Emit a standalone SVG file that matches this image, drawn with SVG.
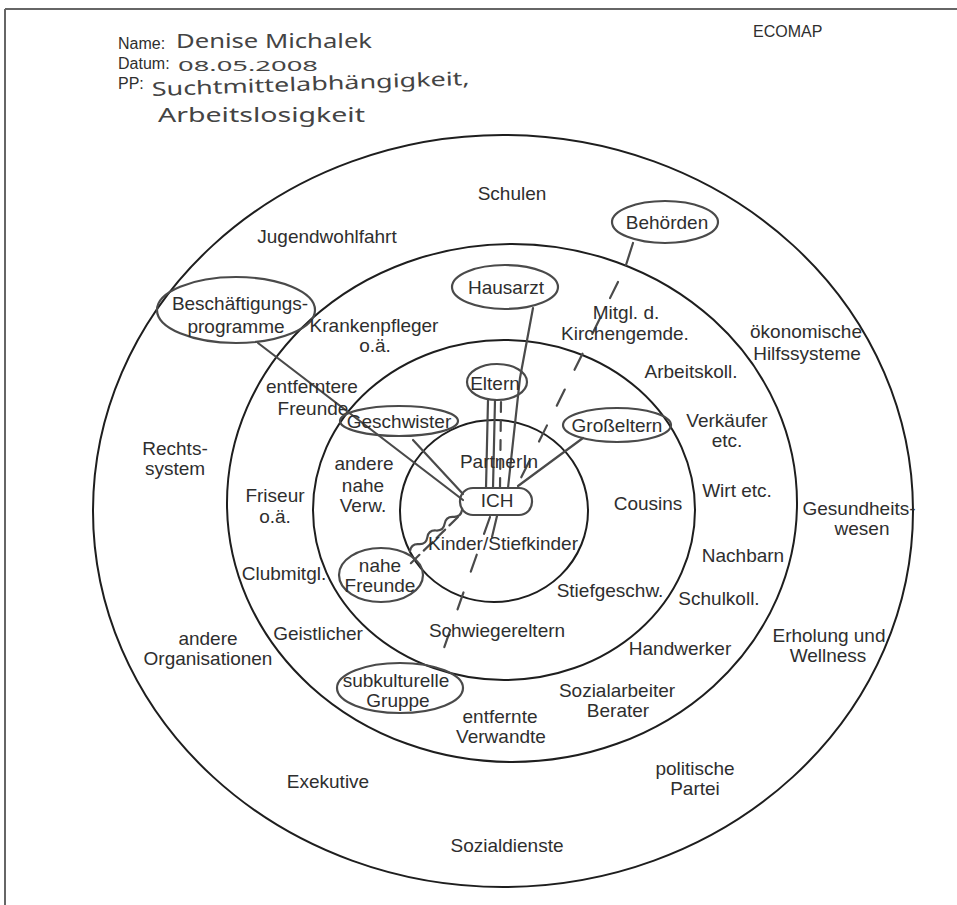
<svg xmlns="http://www.w3.org/2000/svg" width="957" height="905" viewBox="0 0 957 905">
<style>
.lbl{font-family:"Liberation Sans",Arial,sans-serif;font-size:19px;fill:#2e2e2e;text-anchor:middle}
.hdr{font-family:"Liberation Sans",Arial,sans-serif;font-size:16px;fill:#2e2e2e}
.hand{font-family:"Noto Sans","DejaVu Sans",sans-serif;fill:#444}
.ring{fill:none;stroke:#1e1e1e;stroke-width:2}
.hn{fill:none;stroke:#4a4a4a;stroke-width:2.2}
.con{fill:none;stroke:#4a4a4a;stroke-width:2.2;stroke-linecap:round}
.dash{stroke-dasharray:18 22}
</style>
<rect width="957" height="905" fill="#fff"/>
<g id="frame">
<line x1="5" y1="9" x2="957" y2="9" stroke="#666" stroke-width="2"/>
<line x1="5" y1="9" x2="5" y2="905" stroke="#666" stroke-width="2"/>
</g>
<g id="header">
<text class="hdr" x="753" y="37" font-size="17">ECOMAP</text>
<text class="hdr" x="118" y="49">Name:</text>
<text class="hdr" x="118" y="69">Datum:</text>
<text class="hdr" x="118" y="89">PP:</text>
<text class="hand" x="176" y="48" font-size="20" textLength="196" lengthAdjust="spacingAndGlyphs">Denise Michalek</text>
<text class="hand" x="178" y="71" font-size="15" textLength="140" lengthAdjust="spacingAndGlyphs">08.05.2008</text>
<text class="hand" x="152" y="96" font-size="19" textLength="318" lengthAdjust="spacingAndGlyphs" transform="rotate(-2 152 96)">Suchtmittelabhängigkeit,</text>
<text class="hand" x="158" y="122" font-size="19" textLength="207" lengthAdjust="spacingAndGlyphs">Arbeitslosigkeit</text>
</g>
<g id="rings">
<ellipse class="ring" cx="503" cy="511" rx="410" ry="376"/>
<ellipse class="ring" cx="512" cy="503" rx="285" ry="259"/>
<ellipse class="ring" cx="504" cy="510" rx="191" ry="170"/>
<ellipse class="ring" cx="494" cy="511" rx="94" ry="91"/>
</g>
<g id="connectors">
<line class="con" x1="258" y1="343" x2="463" y2="500"/>
<line class="con" x1="413" y1="440" x2="463" y2="494"/>
<line class="con" x1="488" y1="400" x2="486" y2="488"/>
<line class="con" x1="495" y1="400" x2="493" y2="488"/>
<line class="con" x1="501" y1="402" x2="500" y2="488" stroke-dasharray="10 9"/>
<polyline class="con" points="533,308 520,378 508,488"/>
<line class="con" x1="633" y1="243" x2="626" y2="265"/>
<line class="con dash" x1="618" y1="282" x2="516" y2="488"/>
<line class="con dash" x1="490" y1="517" x2="437" y2="668"/>
<line class="con" x1="497" y1="516" x2="492" y2="537"/>
<line class="con" x1="583" y1="438" x2="518" y2="486"/>
<path class="con" d="M462,510 Q460.77,517.36 453.33,516.83 Q445.9,516.31 444.67,523.67 Q443.43,531.02 436,530.5 Q428.57,529.98 427.33,537.33 Q426.1,544.69 418.67,544.17 Q411.23,543.64 410,551"/>
<line class="con" x1="458" y1="517" x2="408" y2="566" stroke-dasharray="12 6"/>
</g>
<g id="outer-ring-labels">
<g id="schulen"><text class="lbl" x="512" y="200">Schulen</text></g>
<g id="jugendwohlfahrt"><text class="lbl" x="327" y="243">Jugendwohlfahrt</text></g>
<g id="rechtssystem"><text class="lbl" x="175" y="455">Rechts-</text><text class="lbl" x="175" y="475">system</text></g>
<g id="andere-org"><text class="lbl" x="208" y="645">andere</text><text class="lbl" x="208" y="665">Organisationen</text></g>
<g id="exekutive"><text class="lbl" x="328" y="788">Exekutive</text></g>
<g id="sozialdienste"><text class="lbl" x="507" y="852">Sozialdienste</text></g>
<g id="partei"><text class="lbl" x="695" y="775">politische</text><text class="lbl" x="695" y="795">Partei</text></g>
<g id="erholung"><text class="lbl" x="829" y="642">Erholung und</text><text class="lbl" x="828" y="662">Wellness</text></g>
<g id="gesundheit"><text class="lbl" x="859" y="515">Gesundheits-</text><text class="lbl" x="862" y="535">wesen</text></g>
<g id="oekonomisch"><text class="lbl" x="806" y="338">ökonomische</text><text class="lbl" x="807" y="360">Hilfssysteme</text></g>
<g id="behoerden"><ellipse class="hn" cx="665" cy="222" rx="53" ry="21"/><text class="lbl" x="667" y="229">Behörden</text></g>
<g id="beschaeftigung"><ellipse class="hn" cx="236" cy="310" rx="79" ry="33"/><text class="lbl" x="240" y="310">Beschäftigungs-</text><text class="lbl" x="236" y="333">programme</text></g>
</g>
<g id="second-ring-labels">
<g id="krankenpfleger"><text class="lbl" x="374" y="332">Krankenpfleger</text><text class="lbl" x="375" y="352">o.ä.</text></g>
<g id="hausarzt"><ellipse class="hn" cx="505" cy="287" rx="53" ry="22"/><text class="lbl" x="506" y="294">Hausarzt</text></g>
<g id="kirche"><text class="lbl" x="626" y="319">Mitgl. d.</text><text class="lbl" x="625" y="340">Kirchengemde.</text></g>
<g id="arbeitskoll"><text class="lbl" x="691" y="378">Arbeitskoll.</text></g>
<g id="verkaeufer"><text class="lbl" x="727" y="427">Verkäufer</text><text class="lbl" x="727" y="447">etc.</text></g>
<g id="wirt"><text class="lbl" x="737" y="497">Wirt etc.</text></g>
<g id="nachbarn"><text class="lbl" x="743" y="562">Nachbarn</text></g>
<g id="schulkoll"><text class="lbl" x="719" y="605">Schulkoll.</text></g>
<g id="handwerker"><text class="lbl" x="680" y="655">Handwerker</text></g>
<g id="sozialarbeiter"><text class="lbl" x="617" y="697">Sozialarbeiter</text><text class="lbl" x="618" y="717">Berater</text></g>
<g id="entfernte-verwandte"><text class="lbl" x="500" y="723">entfernte</text><text class="lbl" x="501" y="743">Verwandte</text></g>
<g id="subkultur"><ellipse class="hn" cx="400" cy="688" rx="63" ry="25"/><text class="lbl" x="396" y="687">subkulturelle</text><text class="lbl" x="398" y="707">Gruppe</text></g>
<g id="geistlicher"><text class="lbl" x="318" y="640">Geistlicher</text></g>
<g id="clubmitgl"><text class="lbl" x="284" y="580">Clubmitgl.</text></g>
<g id="friseur"><text class="lbl" x="275" y="502">Friseur</text><text class="lbl" x="275" y="523">o.ä.</text></g>
<g id="entferntere-freunde"><text class="lbl" x="312" y="393">entferntere</text><text class="lbl" x="313" y="415">Freunde</text></g>
</g>
<g id="third-ring-labels">
<g id="eltern"><ellipse class="hn" cx="497" cy="382" rx="30" ry="18"/><text class="lbl" x="495" y="390">Eltern</text></g>
<g id="geschwister"><ellipse class="hn" cx="399" cy="421" rx="59" ry="15"/><text class="lbl" x="399" y="428">Geschwister</text></g>
<g id="grosseltern"><ellipse class="hn" cx="617" cy="425" rx="54" ry="17"/><text class="lbl" x="617" y="432">Großeltern</text></g>
<g id="andere-verw"><text class="lbl" x="364" y="470">andere</text><text class="lbl" x="363" y="492">nahe</text><text class="lbl" x="363" y="512">Verw.</text></g>
<g id="cousins"><text class="lbl" x="648" y="510">Cousins</text></g>
<g id="stiefgeschw"><text class="lbl" x="610" y="597">Stiefgeschw.</text></g>
<g id="schwiegereltern"><text class="lbl" x="497" y="637">Schwiegereltern</text></g>
<g id="nahe-freunde"><ellipse class="hn" cx="381" cy="575" rx="42" ry="27"/><text class="lbl" x="380" y="572">nahe</text><text class="lbl" x="380" y="592">Freunde</text></g>
</g>
<g id="inner-labels">
<g id="partnerin"><text class="lbl" x="499" y="468">PartnerIn</text></g>
<g id="ich"><rect x="460" y="488" width="72" height="27" rx="13" fill="#fff" class="hn"/><text class="lbl" x="497" y="507">ICH</text></g>
<g id="kinder"><text class="lbl" x="503" y="550">Kinder/Stiefkinder</text></g>
</g>
</svg>
